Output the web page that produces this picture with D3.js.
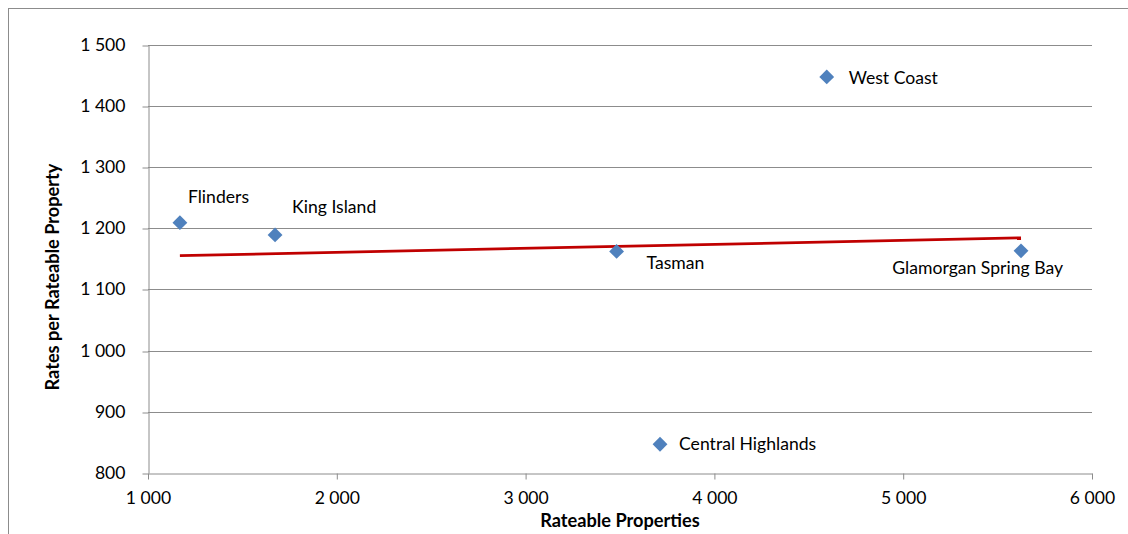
<!DOCTYPE html>
<html>
<head>
<meta charset="utf-8">
<script src="https://cdn.jsdelivr.net/npm/d3@7"></script>
<style>
  html, body { margin: 0; padding: 0; background: #fff; }
  svg { display: block; }
  text { font-family: Lato, "Open Sans", sans-serif; fill: #000; }
</style>
</head>
<body>
<svg id="chart" width="1128" height="534"></svg>
<script>
// Councils: rateable properties vs average rates per rateable property
const councils   = ["Flinders", "King Island", "Tasman", "Glamorgan Spring Bay", "Central Highlands", "West Coast"];
const properties = [1169, 1673, 3482, 5624, 3712, 4595];
const ratesPer   = [1209, 1189, 1162, 1163, 847, 1447];

const xTicks = [1000, 2000, 3000, 4000, 5000, 6000];
const yTicks = [800, 900, 1000, 1100, 1200, 1300, 1400, 1500];

// label placement relative to each point: [dx, dy, anchor]
const labelOffsets = [
  [8, -20, "start"],
  [17, -22, "start"],
  [30, 18, "start"],
  [42, 23, "end"],
  [19, 6, "start"],
  [22, 7, "start"]
];

const fmt = v => d3.format(",")(v).replace(/,/g, " ");
const FS = 17.6;

const svg = d3.select("#chart");
const W = 1128, H = 534;
const m = { left: 148, right: W - 1092, top: 44.5, bottom: H - 473 };

// chart area frame
svg.append("rect")
  .attr("x", 8.5).attr("y", 8.5)
  .attr("width", W + 20).attr("height", H + 20)
  .attr("fill", "none").attr("stroke", "#8c8c8c").attr("stroke-width", 1);

const x = d3.scaleLinear().domain([1000, 6000]).range([m.left, W - m.right]);
const y = d3.scaleLinear().domain([800, 1500]).range([H - m.bottom, m.top]);

// horizontal gridlines
svg.append("g")
  .selectAll("line").data(yTicks.filter(v => v !== 800)).join("line")
  .attr("x1", x(1000)).attr("x2", x(6000))
  .attr("y1", d => Math.round(y(d)) + 0.5).attr("y2", d => Math.round(y(d)) + 0.5)
  .attr("stroke", "#8c8c8c").attr("stroke-width", 1);

// y axis
const yAxis = svg.append("g")
  .attr("transform", `translate(${Math.round(x(1000)) + 0.5},0)`)
  .call(d3.axisLeft(y).tickValues(yTicks).tickFormat(fmt).tickSize(6).tickSizeOuter(0).tickPadding(17));
yAxis.select(".domain").attr("stroke", "#8c8c8c");
yAxis.selectAll(".tick line").attr("stroke", "#8c8c8c")
  .attr("transform", (d) => `translate(0,${Math.round(y(d)) + 0.5 - y(d)})`);
yAxis.selectAll("text").attr("font-size", FS).attr("font-family", "Lato, sans-serif").attr("fill", "#000");

// x axis
const xAxis = svg.append("g")
  .attr("transform", `translate(0,${Math.round(y(800)) + 0.5})`)
  .call(d3.axisBottom(x).tickValues(xTicks).tickFormat(fmt).tickSize(6).tickSizeOuter(0).tickPadding(12));
xAxis.select(".domain").attr("stroke", "#8c8c8c");
xAxis.selectAll(".tick line").attr("stroke", "#8c8c8c");
xAxis.selectAll("text").attr("font-size", FS).attr("font-family", "Lato, sans-serif").attr("fill", "#000");

// linear trend line (least squares) over the data range
const n = properties.length;
const mx = d3.mean(properties), my = d3.mean(ratesPer);
let sxy = 0, sxx = 0;
for (let i = 0; i < n; i++) {
  sxy += (properties[i] - mx) * (ratesPer[i] - my);
  sxx += (properties[i] - mx) ** 2;
}
const slope = sxy / sxx, intercept = my - slope * mx;
const [xmin, xmax] = d3.extent(properties);
svg.append("line")
  .attr("x1", x(xmin)).attr("y1", y(intercept + slope * xmin))
  .attr("x2", x(xmax)).attr("y2", y(intercept + slope * xmax))
  .attr("stroke", "#c00000").attr("stroke-width", 2.75);

// markers
const pts = councils.map((c, i) => ({ name: c, px: properties[i], py: ratesPer[i], off: labelOffsets[i] }));
svg.append("g").selectAll("path").data(pts).join("path")
  .attr("d", d3.symbol().type(d3.symbolDiamond2).size(140))
  .attr("transform", d => `translate(${x(d.px)},${y(d.py)})`)
  .attr("fill", "#4f81bd");

// point labels
svg.append("g").selectAll("text").data(pts).join("text")
  .attr("x", d => x(d.px) + d.off[0])
  .attr("y", d => y(d.py) + d.off[1])
  .attr("text-anchor", d => d.off[2])
  .attr("font-size", FS)
  .text(d => d.name);

// axis titles
svg.append("text")
  .attr("x", (x(1000) + x(6000)) / 2).attr("y", 527)
  .attr("text-anchor", "middle").attr("font-size", 18.2).attr("font-weight", "bold")
  .text("Rateable Properties");

svg.append("text")
  .attr("transform", "translate(59,277) rotate(-90)")
  .attr("text-anchor", "middle").attr("font-size", 18.2).attr("font-weight", "bold")
  .text("Rates per Rateable Property");
</script>
</body>
</html>
